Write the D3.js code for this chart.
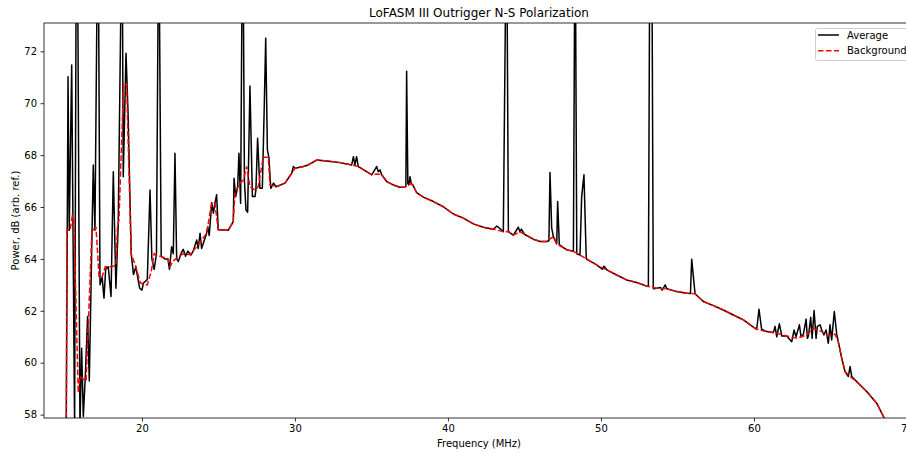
<!DOCTYPE html>
<html>
<head>
<meta charset="utf-8">
<script src="https://cdn.jsdelivr.net/npm/d3@7"></script>
<style>
  body { margin: 0; background: #fff; }
  svg text { font-family: "DejaVu Sans", sans-serif; fill: #000; }
</style>
</head>
<body>
<svg width="906" height="452"></svg>
<script>
// background (smoothed) spectrum, [MHz, dB]
const background = [
    [15.05, 57.0], [15.1, 65.1], [15.3, 65.1], [15.45, 65.65], [15.55, 65.5],
    [15.84, 58.84], [15.95, 59.47], [16.1, 59.4], [16.35, 59.3], [16.5, 61.5],
    [16.73, 65.1], [17.0, 65.2], [17.2, 63.3], [17.4, 63.3], [17.6, 63.7],
    [18.0, 63.7], [18.3, 63.75], [18.4, 65.2], [18.5, 65.5], [18.8, 70.77],
    [19.0, 70.7], [19.3, 64.2], [19.6, 63.7], [19.9, 63.07], [20.35, 63.0],
    [20.6, 63.5], [20.8, 64.2], [21.0, 64.1], [21.2, 64.1], [21.7, 64.0],
    [21.84, 63.7], [22.0, 63.9], [22.27, 64.03], [22.7, 64.2], [23.14, 64.16],
    [23.58, 64.47], [24.23, 64.99], [24.56, 66.17], [24.77, 66.14], [24.99, 65.12],
    [25.64, 65.1], [25.97, 65.44], [26.08, 66.53], [26.41, 66.92], [26.63, 67.04],
    [26.85, 67.56], [27.06, 66.78], [27.39, 66.66], [27.6, 66.78], [27.93, 67.92],
    [28.26, 67.92], [28.37, 66.85], [28.81, 66.78], [29.35, 66.92], [29.79, 67.3],
    [30.0, 67.49], [30.55, 67.56], [30.87, 67.62], [31.42, 67.81], [32.08, 67.77],
    [32.51, 67.74], [32.95, 67.71], [33.71, 67.62], [34.14, 67.56], [34.69, 67.36],
    [35.02, 67.24], [35.34, 67.27], [35.67, 67.24], [36.0, 66.98], [36.43, 66.85],
    [36.87, 66.76], [37.2, 66.77], [37.52, 66.89], [37.7, 66.85], [37.96, 66.55],
    [38.39, 66.38], [39.05, 66.21], [39.7, 66.01], [40.35, 65.73], [41.01, 65.57],
    [41.66, 65.35], [42.31, 65.22], [42.97, 65.14], [43.62, 65.05], [43.95, 65.05],
    [44.27, 64.92], [44.71, 65.04], [45.0, 64.95], [45.58, 64.76], [46.02, 64.67],
    [46.46, 64.67], [46.89, 64.86], [47.11, 64.58], [47.76, 64.35], [48.2, 64.29],
    [48.63, 64.15], [49.07, 63.99], [49.72, 63.77], [50.38, 63.58], [51.03, 63.38],
    [51.68, 63.19], [52.34, 63.09], [52.99, 62.95], [53.65, 62.87], [54.3, 62.85],
    [54.95, 62.74], [55.61, 62.68], [56.15, 62.66], [56.69, 62.36], [57.35, 62.2],
    [58.0, 62.03], [58.65, 61.84], [59.31, 61.65], [59.96, 61.37], [60.18, 61.29],
    [60.83, 61.2], [61.49, 61.14], [62.14, 61.03], [62.8, 60.94], [63.45, 61.07],
    [63.88, 61.33], [64.43, 61.2], [64.86, 61.03], [65.3, 61.1], [65.51, 60.81],
    [65.74, 60.17], [65.95, 59.66], [66.28, 59.47], [66.82, 59.21], [67.37, 58.89],
    [68.02, 58.44], [68.52, 57.86], [68.7, 57.5]
];

// averaged spectrum with RFI spikes, [MHz, dB]
const average = [
    [15.05, 57.0], [15.17, 71.02], [15.25, 65.1], [15.41, 71.47], [15.6, 57.5],
    [15.7, 75], [15.8, 75], [15.95, 57.5], [16.06, 60.56], [16.17, 57.93],
    [16.3, 59.5], [16.45, 61.78], [16.56, 59.3], [16.82, 67.62], [16.93, 65.1],
    [17.08, 75], [17.16, 75], [17.26, 63.0], [17.4, 63.3], [17.52, 62.49],
    [17.63, 63.6], [17.8, 63.7], [17.98, 62.55], [18.13, 67.36], [18.3, 62.87],
    [18.45, 65.3], [18.65, 75], [18.72, 75], [18.78, 67.17], [18.96, 71.92],
    [19.1, 69.5], [19.3, 64.2], [19.45, 63.4], [19.6, 63.7], [19.85, 62.87],
    [20.0, 62.8], [20.1, 63.07], [20.35, 63.2], [20.53, 66.66], [20.65, 64.0],
    [20.8, 63.6], [20.95, 64.2], [21.07, 75], [21.13, 75], [21.26, 64.1],
    [21.5, 64.0], [21.7, 64.0], [21.8, 63.6], [21.94, 64.47], [22.05, 64.2],
    [22.16, 68.07], [22.27, 64.0], [22.38, 63.9], [22.55, 64.2], [22.7, 64.37],
    [22.85, 64.1], [23.0, 64.3], [23.2, 64.15], [23.35, 64.3], [23.58, 64.73],
    [23.68, 64.4], [23.8, 64.99], [23.9, 64.4], [24.23, 64.99], [24.3, 65.24],
    [24.4, 64.9], [24.56, 66.17], [24.67, 65.76], [24.77, 66.14], [24.88, 66.47],
    [24.99, 65.12], [25.64, 65.1], [25.97, 65.44], [26.02, 67.11], [26.13, 66.4],
    [26.26, 66.8], [26.34, 68.07], [26.45, 66.14], [26.55, 75], [26.62, 75],
    [26.7, 67.0], [26.8, 65.89], [26.91, 65.8], [27.06, 70.66], [27.22, 66.4],
    [27.39, 66.4], [27.45, 66.66], [27.56, 68.65], [27.71, 66.72], [27.87, 66.72],
    [28.0, 70.0], [28.09, 72.5], [28.2, 68.2], [28.3, 67.9], [28.42, 66.72],
    [28.6, 66.92], [28.76, 66.78], [29.35, 66.92], [29.79, 67.3], [29.9, 67.56],
    [30.0, 67.49], [30.55, 67.56], [30.87, 67.62], [31.42, 67.81], [32.08, 67.77],
    [32.51, 67.74], [32.95, 67.71], [33.71, 67.62], [33.82, 67.94], [33.92, 67.62],
    [34.03, 67.94], [34.14, 67.56], [34.69, 67.36], [35.02, 67.24], [35.34, 67.56],
    [35.45, 67.36], [35.56, 67.43], [35.67, 67.24], [36.0, 66.98], [36.43, 66.85],
    [36.87, 66.76], [37.2, 66.77], [37.25, 66.8], [37.3, 71.23], [37.38, 66.9],
    [37.45, 66.85], [37.52, 67.17], [37.6, 66.9], [37.7, 66.85], [37.96, 66.55],
    [38.39, 66.38], [39.05, 66.21], [39.7, 66.01], [40.35, 65.73], [41.01, 65.57],
    [41.66, 65.35], [42.31, 65.22], [42.97, 65.14], [43.2, 65.27], [43.62, 65.05],
    [43.83, 78], [43.95, 65.05], [44.27, 64.92], [44.6, 65.22], [44.71, 65.04],
    [44.8, 65.15], [45.0, 64.95], [45.58, 64.76], [46.02, 64.67], [46.46, 64.67],
    [46.6, 64.7], [46.67, 67.33], [46.78, 65.2], [46.89, 64.86], [47.11, 64.58],
    [47.17, 66.21], [47.28, 64.55], [47.76, 64.35], [48.2, 64.29], [48.31, 78],
    [48.42, 64.2], [48.63, 64.15], [48.74, 66.4], [48.89, 67.24], [49.04, 64.0],
    [49.72, 63.77], [50.1, 63.6], [50.2, 63.72], [50.38, 63.58], [51.03, 63.38],
    [51.68, 63.19], [52.34, 63.09], [52.99, 62.95], [53.1, 62.95], [53.22, 80],
    [53.3, 80], [53.42, 62.85], [53.65, 62.87], [53.9, 62.9], [54.0, 62.8],
    [54.2, 63.0], [54.3, 62.85], [54.95, 62.74], [55.61, 62.68], [55.85, 62.67],
    [55.93, 63.99], [56.15, 62.66], [56.69, 62.36], [57.35, 62.2], [58.0, 62.03],
    [58.65, 61.84], [59.31, 61.65], [59.96, 61.37], [60.18, 61.29], [60.33, 62.06],
    [60.5, 61.29], [60.83, 61.2], [61.27, 61.16], [61.38, 61.4], [61.49, 61.0],
    [61.66, 61.5], [61.82, 61.03], [62.14, 61.03], [62.47, 60.81], [62.62, 61.26],
    [62.75, 61.0], [62.97, 61.46], [63.08, 61.0], [63.23, 61.1], [63.41, 61.68],
    [63.49, 60.94], [63.56, 61.03], [63.71, 61.75], [63.8, 60.94], [63.93, 62.01],
    [64.06, 60.94], [64.14, 61.4], [64.32, 61.46], [64.43, 61.26], [64.57, 61.07],
    [64.71, 61.26], [64.86, 60.75], [64.97, 61.46], [65.08, 60.88], [65.25, 61.97],
    [65.41, 61.1], [65.51, 60.81], [65.74, 60.17], [65.95, 59.66], [66.17, 59.47],
    [66.28, 59.85], [66.39, 59.47], [66.82, 59.21], [67.37, 58.89], [68.02, 58.44],
    [68.52, 57.86], [68.7, 57.5]
];

const xTicks = [20, 30, 40, 50, 60, 70];
const yTicks = [58, 60, 62, 64, 66, 68, 70, 72];
const seriesNames = ["Average", "Background"];

var svg = d3.select("svg");

// plot box (window.top is reserved, so prefix these)
var plotLeft = 44, plotTop = 23, plotRight = 914, plotBottom = 418;

var x = d3.scaleLinear().domain([13.6, 70.46]).range([plotLeft, plotRight]);
var y = d3.scaleLinear().domain([57.87, 73.09]).range([plotBottom, plotTop]);

svg.append("clipPath")
    .attr("id", "plot-clip")
    .append("rect")
    .attr("x", plotLeft)
    .attr("y", plotTop)
    .attr("width", plotRight - plotLeft)
    .attr("height", plotBottom - plotTop);

var line = d3.line()
    .x(d => x(d[0]))
    .y(d => y(d[1]));

var plot = svg.append("g").attr("clip-path", "url(#plot-clip)");

plot.append("path")
    .datum(average)
    .attr("d", line)
    .attr("fill", "none")
    .attr("stroke", "#000")
    .attr("stroke-width", 1.5)
    .attr("stroke-linejoin", "round");

plot.append("path")
    .datum(background)
    .attr("d", line)
    .attr("fill", "none")
    .attr("stroke", "#ff0000")
    .attr("stroke-width", 1.5)
    .attr("stroke-dasharray", "5.55,2.4");

// axes
var xAxis = svg.append("g")
    .attr("transform", `translate(0,${plotBottom})`)
    .call(d3.axisBottom(x).tickValues(xTicks).tickSize(3.5).tickPadding(3.5).tickFormat(d3.format("d")));

var yAxis = svg.append("g")
    .attr("transform", `translate(${plotLeft},0)`)
    .call(d3.axisLeft(y).tickValues(yTicks).tickSize(3.5).tickPadding(3.5).tickFormat(d3.format("d")));

[xAxis, yAxis].forEach(a => {
    a.select(".domain").remove();
    a.selectAll(".tick line").attr("stroke", "#000").attr("stroke-width", 0.8);
    a.selectAll(".tick text").attr("font-size", 10).attr("font-family", "DejaVu Sans").attr("fill", "#000");
});

// spines
svg.append("rect")
    .attr("x", plotLeft)
    .attr("y", plotTop)
    .attr("width", plotRight - plotLeft)
    .attr("height", plotBottom - plotTop)
    .attr("fill", "none")
    .attr("stroke", "#000")
    .attr("stroke-width", 0.8);

// labels
svg.append("text")
    .attr("x", (plotLeft + plotRight) / 2)
    .attr("y", 17)
    .attr("text-anchor", "middle")
    .attr("font-size", 12)
    .text("LoFASM III Outrigger N-S Polarization");

svg.append("text")
    .attr("x", (plotLeft + plotRight) / 2)
    .attr("y", 447)
    .attr("text-anchor", "middle")
    .attr("font-size", 10)
    .text("Frequency (MHz)");

svg.append("text")
    .attr("transform", `translate(19,${(plotTop + plotBottom) / 2}) rotate(-90)`)
    .attr("text-anchor", "middle")
    .attr("font-size", 10)
    .text("Power, dB (arb. ref.)");

// legend
var legend = svg.append("g");
legend.append("rect")
    .attr("x", 815.5)
    .attr("y", 28.5)
    .attr("width", 93)
    .attr("height", 32)
    .attr("rx", 2)
    .attr("fill", "#fff")
    .attr("fill-opacity", 0.8)
    .attr("stroke", "#cccccc")
    .attr("stroke-width", 1);

seriesNames.forEach((name, i) => {
    var ly = 35 + i * 15.7;
    legend.append("line")
        .attr("x1", 818)
        .attr("x2", 839)
        .attr("y1", ly)
        .attr("y2", ly)
        .attr("stroke", i === 0 ? "#000" : "#ff0000")
        .attr("stroke-width", 1.5)
        .attr("stroke-dasharray", i === 0 ? null : "5.55,2.4");
    legend.append("text")
        .attr("x", 847)
        .attr("y", ly + 3.6)
        .attr("font-size", 10)
        .text(name);
});
</script>
</body>
</html>
